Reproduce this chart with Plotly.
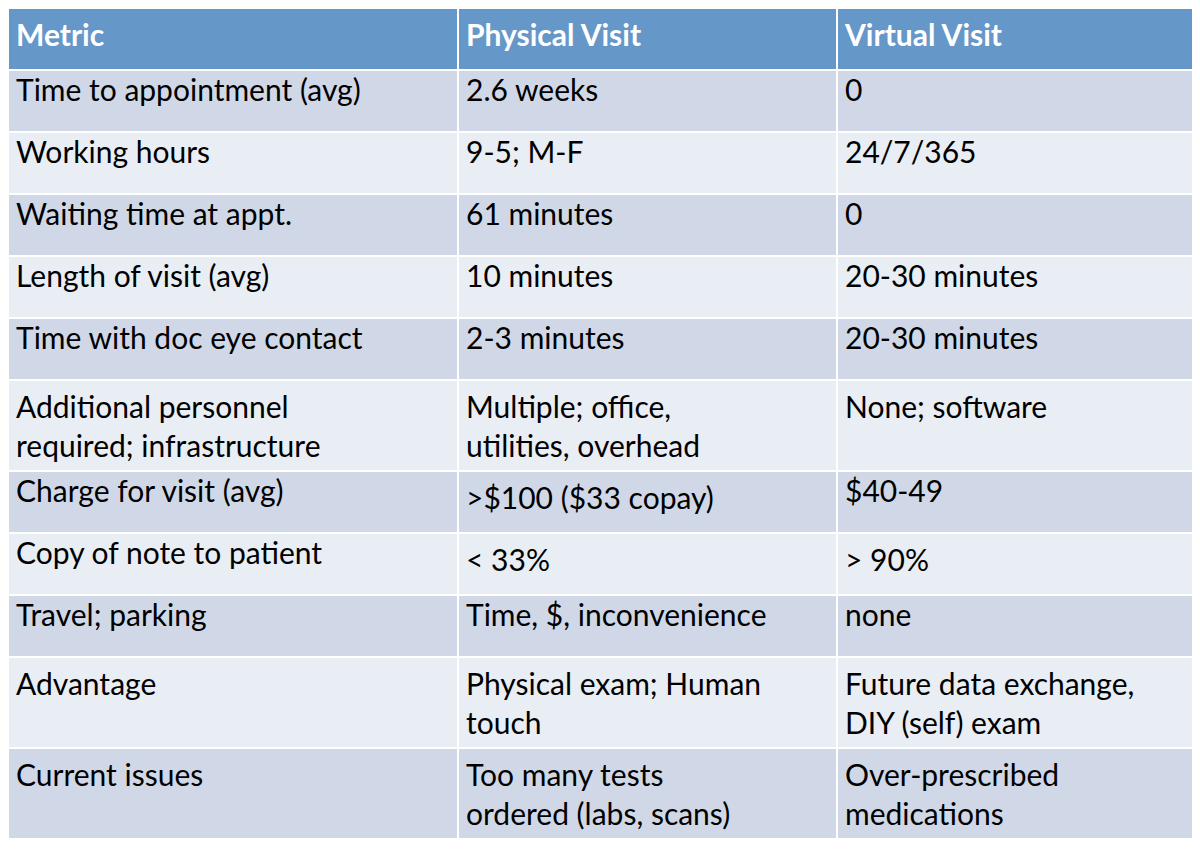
import plotly.graph_objects as go

headers = ["<b>Metric</b>", "<b>Physical Visit</b>", "<b>Virtual Visit</b>"]
metrics = ["Time to appointment (avg)", "Working hours", "Waiting time at appt.",
           "Length of visit (avg)", "Time with doc eye contact",
           "Additional personnel<br>required; infrastructure", "Charge for visit (avg)",
           "Copy of note to patient", "Travel; parking", "Advantage<br> ", "Current issues<br> "]
physical = ["2.6 weeks", "9-5; M-F", "61 minutes", "10 minutes", "2-3 minutes",
            "Multiple; office,<br>utilities, overhead", ">$100 ($33 copay)", "< 33%",
            "Time, $, inconvenience", "Physical exam; Human<br>touch",
            "Too many tests<br>ordered (labs, scans)"]
virtual = ["0", "24/7/365", "0", "20-30 minutes", "20-30 minutes", "None; software<br> ",
           "$40-49", "> 90%", "none", "Future data exchange,<br>DIY (self) exam",
           "Over-prescribed<br>medications"]

row_colors = ["#D0D8E8" if i % 2 == 0 else "#E9EDF4" for i in range(len(metrics))]

fig = go.Figure(go.Table(
    columnwidth=[450, 379, 371],
    header=dict(values=headers, fill_color="#6697C9", align="left", height=62,
                line=dict(color="white", width=2),
                font=dict(family="Lato", size=30, color="white")),
    cells=dict(values=[metrics, physical, virtual], fill_color=[row_colors] * 3,
               align="left", height=62, line=dict(color="white", width=2),
               font=dict(family="Lato", size=30, color="black")),
    domain=dict(x=[0, 1], y=[0, 1]),
))
fig.update_layout(width=1200, height=860, margin=dict(l=0, r=0, t=0, b=0),
                  paper_bgcolor="white")
fig.write_html("out.html")
